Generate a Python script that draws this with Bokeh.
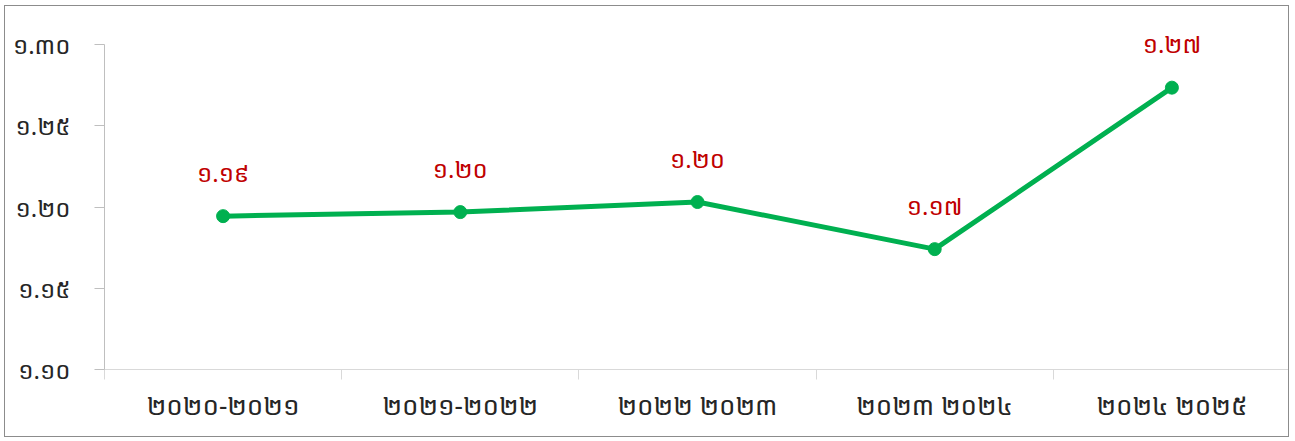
from bokeh.plotting import figure
from bokeh.models import Range1d, FixedTicker, ColumnDataSource, Label
from bokeh.embed import file_html
from bokeh.resources import INLINE

categories = ["២០២០-២០២១", "២០២១-២០២២", "២០២២ ២០២៣", "២០២៣ ២០២៤", "២០២៤ ២០២៥"]
values = [1.1944, 1.1969, 1.2031, 1.1741, 1.2735]
value_labels = ["១.១៩", "១.២០", "១.២០", "១.១៧", "១.២៧"]
y_ticks = [1.10, 1.15, 1.20, 1.25, 1.30]
y_tick_labels = ["១.១០", "១.១៥", "១.២០", "១.២៥", "១.៣០"]

FONT = "Noto Sans Khmer, Khmer OS, Noto Sans, DejaVu Sans"

xs = [i + 0.5 for i in range(len(categories))]
src = ColumnDataSource(dict(x=xs, y=values, lab=value_labels))

# axis spans 1.10-1.30; the frame has some headroom above for the value labels
p = figure(width=1285, height=432, output_backend="svg", toolbar_location=None,
           x_range=Range1d(0, len(categories)), y_range=Range1d(1.10, 1.3173),
           min_border_left=99, min_border_right=0, min_border_top=10, min_border_bottom=69)
p.outline_line_color = None
p.grid.grid_line_color = None
p.styles = {"border": "1px solid #8c8c8c", "margin-left": "4px", "margin-top": "5px"}

p.line("x", "y", source=src, line_color="#00b050", line_width=5)
p.scatter("x", "y", source=src, size=13, fill_color="#00b050", line_color="#00b050")

for x, y, lab in zip(xs, values, value_labels):
    p.add_layout(Label(x=x, y=y, text=lab, text_align="center",
                       text_baseline="alphabetic", y_offset=44, text_color="#c00000",
                       text_font_size="24px", text_font=FONT))

ya = p.yaxis[0]
ya.ticker = FixedTicker(ticks=y_ticks, minor_ticks=[])
ya.bounds = (y_ticks[0], y_ticks[-1])
ya.major_label_overrides = {t: l for t, l in zip(y_ticks, y_tick_labels)}
ya.axis_line_color = "#bfbfbf"
ya.major_tick_line_color = "#bfbfbf"
ya.major_tick_out = 10
ya.major_tick_in = 0
ya.major_label_standoff = 24
ya.major_label_text_font = FONT
ya.major_label_text_font_size = "24px"
ya.major_label_text_color = "#262626"

xa = p.xaxis[0]
xa.ticker = FixedTicker(ticks=xs, minor_ticks=list(range(len(categories) + 1)))
xa.major_label_overrides = {x: c for x, c in zip(xs, categories)}
xa.axis_line_color = "#d9d9d9"
xa.major_tick_line_color = None
xa.minor_tick_line_color = "#d9d9d9"
xa.minor_tick_out = 10
xa.minor_tick_in = 0
xa.major_label_standoff = 7
xa.major_label_text_font = FONT
xa.major_label_text_font_size = "26px"
xa.major_label_text_color = "#262626"

open("out.html", "w").write(file_html(p, INLINE))
